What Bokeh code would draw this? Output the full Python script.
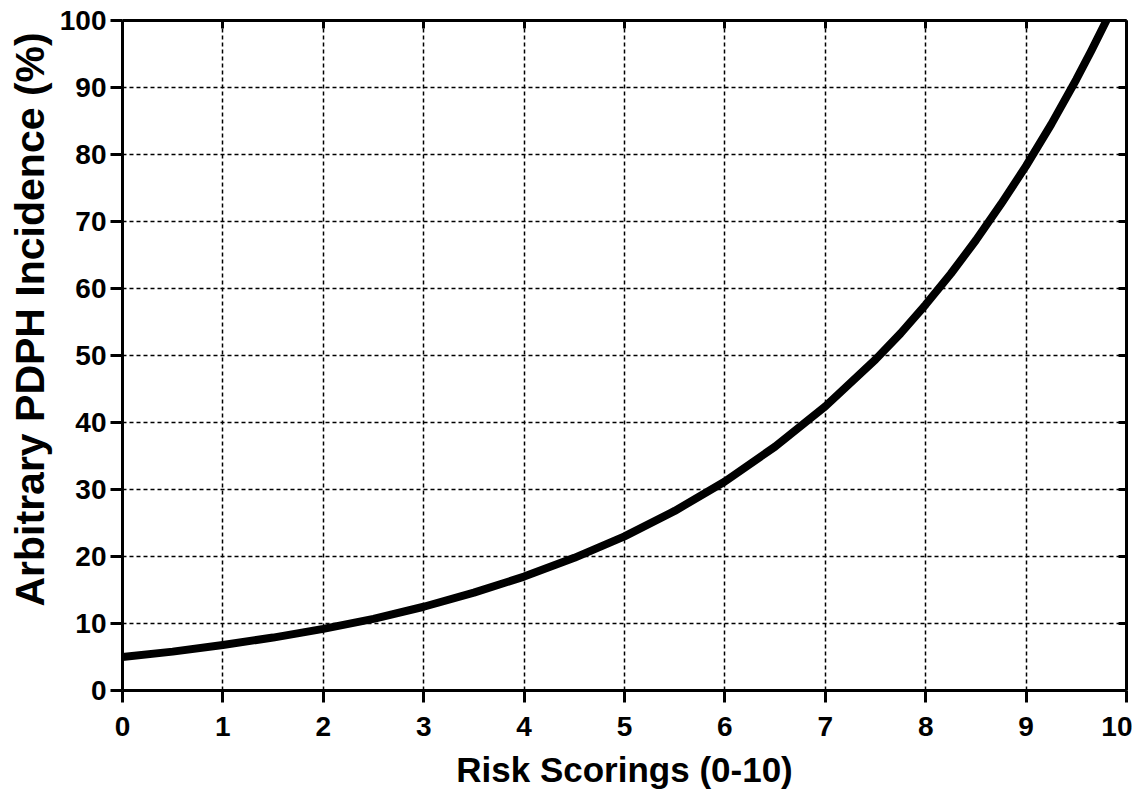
from bokeh.plotting import figure
from bokeh.models import LinearAxis, FixedTicker, Range1d, Title
from bokeh.embed import file_html
from bokeh.resources import INLINE

# Data
risk_score = [0.0, 0.5, 1.0, 1.5, 2.0, 2.5, 3.0, 3.5, 4.0, 4.5, 5.0, 5.5, 6.0, 6.5, 7.0, 7.5,
              7.75, 8.0, 8.25, 8.5, 8.75, 9.0, 9.25, 9.5, 9.65, 9.8]
pdph_incidence = [5.0, 5.8, 6.8, 7.9, 9.2, 10.7, 12.5, 14.6, 17.0, 19.8, 23.0, 26.8, 31.2, 36.4, 42.4, 49.4,
                  53.3, 57.6, 62.2, 67.2, 72.6, 78.3, 84.5, 91.2, 95.5, 100.0]
x_ticks = [0, 1, 2, 3, 4, 5, 6, 7, 8, 9, 10]
y_ticks = [0, 10, 20, 30, 40, 50, 60, 70, 80, 90, 100]
x_title = "Risk Scorings (0-10)"
y_title = "Arbitrary PDPH Incidence (%)"

FONT = "Liberation Sans"

p = figure(width=1132, height=792, output_backend="svg", toolbar_location=None,
           x_range=Range1d(0, 10), y_range=Range1d(0, 100),
           min_border_left=113, min_border_right=6, min_border_top=20, min_border_bottom=102)
p.outline_line_color = None
p.background_fill_color = "white"
p.border_fill_color = "white"

for ax, ticks in ((p.xaxis[0], x_ticks), (p.yaxis[0], y_ticks)):
    ax.ticker = FixedTicker(ticks=ticks)
    ax.axis_line_width = 3
    ax.axis_line_color = "black"
    ax.major_tick_line_width = 3
    ax.major_tick_line_color = "black"
    ax.major_tick_out = 12
    ax.major_tick_in = 0
    ax.minor_tick_line_color = None
    ax.major_label_text_font = FONT
    ax.major_label_text_font_style = "bold"
    ax.major_label_text_font_size = "28px"
    ax.major_label_text_color = "black"
    ax.axis_label_text_font = FONT
    ax.axis_label_text_font_style = "bold"
    ax.axis_label_text_color = "black"

p.xaxis[0].axis_label = x_title
p.xaxis[0].axis_label_text_font_size = "35px"
p.xaxis[0].major_label_standoff = 14
p.yaxis[0].major_label_standoff = 4
p.xaxis[0].axis_label_standoff = 11

y_label = Title(text=y_title, align="left", offset=84, standoff=8,
                text_font=FONT, text_font_style="bold", text_font_size="41px",
                text_color="black")
p.add_layout(y_label, "left")

for loc, ticks in (("above", x_ticks), ("right", y_ticks)):
    ax = LinearAxis(ticker=FixedTicker(ticks=ticks))
    ax.axis_line_width = 3
    ax.axis_line_color = "black"
    ax.major_tick_line_width = 3
    ax.major_tick_line_color = "black"
    ax.major_tick_out = 0
    ax.major_tick_in = 8
    ax.minor_tick_line_color = None
    ax.major_label_text_font_size = "0px"
    ax.major_label_text_color = None
    ax.major_label_standoff = 0
    p.add_layout(ax, loc)

p.xgrid.ticker = FixedTicker(ticks=x_ticks)
p.ygrid.ticker = FixedTicker(ticks=y_ticks)
for g in (p.xgrid[0], p.ygrid[0]):
    g.grid_line_color = "black"
    g.grid_line_width = 1.5
    g.grid_line_dash = "4 3"

p.line(risk_score, pdph_incidence, line_color="black", line_width=8, line_cap="round", line_join="round")

open("out.html", "w").write(file_html(p, INLINE))
